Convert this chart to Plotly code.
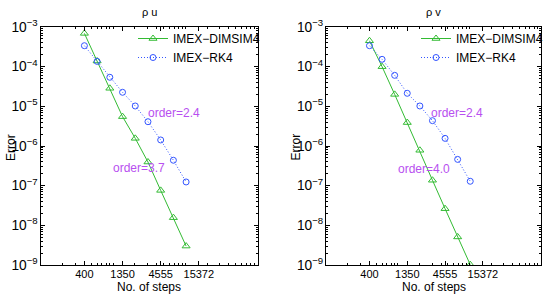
import plotly.graph_objects as go

# ---- data ----
steps = [400, 600, 900, 1350, 2025, 3038, 4556, 6834, 10252]
rhou_dimsim = [6.9e-4, 1.39e-4, 2.85e-5, 5.5e-6, 1.56e-6, 3.95e-7, 7.6e-8, 1.56e-8, 3.0e-9]
rhou_rk = [3.38e-4, 1.36e-4, 5.4e-5, 2.26e-5, 1.02e-5, 4.1e-6, 1.42e-6, 4.37e-7, 1.24e-7]
rhov_dimsim = [4.5e-4, 1.0e-4, 2.0e-5, 3.9e-6, 7.8e-7, 1.37e-7, 2.63e-8, 5.1e-9, 1.02e-9]
rhov_rk = [3.38e-4, 1.53e-4, 6.05e-5, 2.13e-5, 1.02e-5, 4.35e-6, 1.56e-6, 4.6e-7, 1.29e-7]
xtick_vals = [400, 1350, 4555, 15372]
xtick_text = ["400", "1350", "4555", "15372"]
panel_titles = ["ρ u", "ρ v"]
order_labels = [["order=2.4", "order=3.7"], ["order=2.4", "order=4.0"]]

GREEN = "#33bb33"
BLUE = "#3355ff"
PURPLE = "#b84ff0"
FONT = "Liberation Sans, Arial, sans-serif"
W, H = 548, 294

fig = go.Figure()

panels = [
    dict(xa="x", ya="y", leg="legend", dim=rhou_dimsim, rk=rhou_rk),
    dict(xa="x2", ya="y2", leg="legend2", dim=rhov_dimsim, rk=rhov_rk),
]
for p in panels:
    fig.add_trace(go.Scatter(
        x=steps, y=p["dim"], xaxis=p["xa"], yaxis=p["ya"], legend=p["leg"],
        name="IMEX\u2212DIMSIM4", mode="lines+markers",
        line=dict(color=GREEN, width=1),
        marker=dict(symbol="triangle-up-open", size=7, color=GREEN, line=dict(width=1, color=GREEN)),
    ))
    fig.add_trace(go.Scatter(
        x=steps, y=p["rk"], xaxis=p["xa"], yaxis=p["ya"], legend=p["leg"],
        name="IMEX\u2212RK4", mode="lines+markers",
        line=dict(color=BLUE, width=1, dash="1px,2px"),
        marker=dict(symbol="circle-open", size=6, color=BLUE, line=dict(width=1, color=BLUE)),
    ))

# domains in pixels
L1, R1 = 41, 258
L2, R2 = 327, 542
TOP, BOT = 27, 265

def px_x(v):
    return v / W

def px_y(v):
    return 1 - v / H

xcommon = dict(
    type="log", range=[2, 5], tickmode="array", tickvals=xtick_vals, ticktext=xtick_text,
    ticks="inside", ticklen=4, tickwidth=1, tickcolor="black",
    showline=True, linecolor="black", linewidth=1, mirror="allticks",
    showgrid=False, zeroline=False,
    minor=dict(ticks="inside", ticklen=2, tickcolor="black", dtick="D1", showgrid=False),
    tickfont=dict(size=11, color="black", family=FONT),
    ticklabelstandoff=-1,
    automargin=False,
)
ycommon = dict(
    type="log", range=[-9, -3], dtick=1, exponentformat="power", showexponent="all",
    ticks="inside", ticklen=4, tickwidth=1, tickcolor="black",
    showline=True, linecolor="black", linewidth=1, mirror="allticks",
    showgrid=False, zeroline=False,
    minor=dict(ticks="inside", ticklen=2, tickcolor="black", dtick="D1", showgrid=False),
    tickfont=dict(size=11, color="black", family=FONT),
    automargin=False,
)

fig.update_layout(
    width=W, height=H,
    margin=dict(l=0, r=0, t=0, b=0),
    paper_bgcolor="white", plot_bgcolor="white",
    font=dict(family=FONT, size=12, color="black"),
    showlegend=True,
    xaxis=dict(domain=[px_x(L1), px_x(R1)], anchor="y", **xcommon),
    yaxis=dict(domain=[px_y(BOT), px_y(TOP)], anchor="x", **ycommon),
    xaxis2=dict(domain=[px_x(L2), px_x(R2)], anchor="y2", **xcommon),
    yaxis2=dict(domain=[px_y(BOT), px_y(TOP)], anchor="x2", **ycommon),
    legend=dict(x=px_x(133), y=px_y(24), xanchor="left", yanchor="top",
                bgcolor="rgba(0,0,0,0)", font=dict(size=12, family=FONT),
                tracegroupgap=0),
    legend2=dict(x=px_x(417), y=px_y(24), xanchor="left", yanchor="top",
                 bgcolor="rgba(0,0,0,0)", font=dict(size=12, family=FONT),
                 tracegroupgap=0),
)

ann = []
centers = [(L1 + R1) / 2, (L2 + R2) / 2]
for i, c in enumerate(centers):
    ann.append(dict(x=px_x(c), y=px_y(12), xref="paper", yref="paper", text=panel_titles[i],
                    showarrow=False, font=dict(size=11), xanchor="center", yanchor="middle"))
    ann.append(dict(x=px_x(c), y=px_y(287), xref="paper", yref="paper", text="No. of steps",
                    showarrow=False, font=dict(size=12), xanchor="center", yanchor="middle"))
for xx in [11, 297]:
    ann.append(dict(x=px_x(xx), y=px_y(147), xref="paper", yref="paper", text="Error",
                    textangle=-90, showarrow=False, font=dict(size=12),
                    xanchor="center", yanchor="middle"))
order_pos = [[(174, 113), (139.5, 168)], [(458, 113), (424.5, 169)]]
for i in range(2):
    for j in range(2):
        ox, oy = order_pos[i][j]
        ann.append(dict(x=px_x(ox), y=px_y(oy), xref="paper", yref="paper",
                        text=order_labels[i][j], showarrow=False,
                        font=dict(size=12, color=PURPLE), xanchor="center", yanchor="middle"))
fig.update_layout(annotations=ann)

fig.write_html("out.html", config={"displayModeBar": False},
               post_script="document.body.style.margin='0px';")
